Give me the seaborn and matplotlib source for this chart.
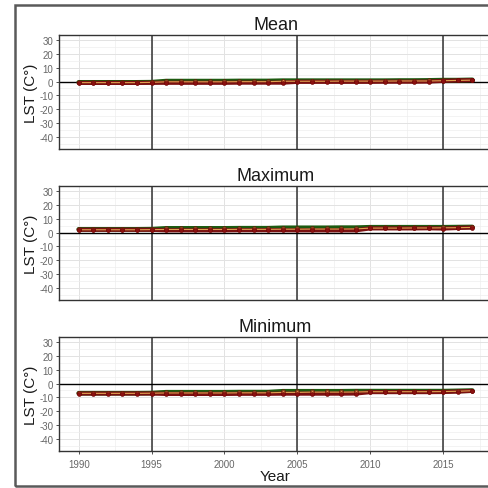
import matplotlib
matplotlib.use("Agg")
import matplotlib.pyplot as plt
import seaborn as sns
import pandas as pd
from matplotlib.patches import Rectangle
from matplotlib.ticker import MultipleLocator

# 数据
years = list(range(1990, 2018))

mean_green = [-0.6, -0.6, -0.6, -0.6, -0.6, -0.5, 0.3, 0.3, 0.3, 0.3, 0.3, 0.4, 0.4, 0.4,
              0.6, 0.6, 0.6, 0.6, 0.6, 0.6, 0.6, 0.6, 0.7, 0.7, 0.8, 1.0, 1.0, 1.2]
mean_orange = [-0.8, -0.8, -0.8, -0.8, -0.8, -0.6, -0.2, -0.2, -0.2, -0.2, -0.2, -0.1, -0.1, -0.1,
               0.2, 0.2, 0.2, 0.2, 0.3, 0.3, 0.3, 0.3, 0.4, 0.4, 0.4, 0.6, 0.8, 1.0]
mean_red = [-1.0, -1.0, -1.0, -1.0, -1.0, -0.9, -0.9, -0.9, -0.9, -0.9, -0.9, -0.8, -0.8, -0.8,
            -0.8, -0.2, -0.2, -0.2, -0.2, -0.2, -0.2, -0.1, -0.1, -0.1, 0.0, 0.5, 0.8, 1.0]

max_green = [2.3, 2.3, 2.3, 2.3, 2.3, 2.4, 3.0, 3.0, 3.0, 3.0, 3.0, 3.1, 3.1, 3.1,
             3.4, 3.4, 3.4, 3.4, 3.5, 3.5, 3.8, 3.8, 3.8, 3.8, 3.8, 3.8, 3.9, 4.0]
max_orange = [2.0, 2.0, 2.0, 2.0, 2.0, 2.1, 2.2, 2.2, 2.2, 2.2, 2.2, 2.3, 2.3, 2.3,
              2.4, 2.4, 2.5, 2.5, 2.5, 2.6, 3.2, 3.2, 3.2, 3.3, 3.3, 3.4, 3.5, 3.7]
max_red = [2.0, 2.0, 2.0, 2.0, 2.0, 2.0, 1.6, 1.6, 1.6, 1.6, 1.6, 1.7, 1.7, 1.7,
           1.7, 1.6, 1.6, 1.6, 1.6, 1.6, 3.0, 3.0, 3.0, 3.0, 3.1, 2.9, 3.3, 3.6]

min_green = [-7.0, -7.0, -7.0, -7.0, -7.0, -6.9, -6.3, -6.3, -6.3, -6.3, -6.3, -6.2, -6.2, -6.2,
             -5.6, -5.6, -5.6, -5.6, -5.6, -5.5, -5.5, -5.5, -5.5, -5.5, -5.5, -5.5, -5.3, -5.1]
min_orange = [-7.1, -7.1, -7.1, -7.1, -7.1, -7.0, -6.8, -6.8, -6.8, -6.8, -6.8, -6.7, -6.7, -6.7,
              -6.4, -6.4, -6.2, -6.2, -6.2, -6.1, -5.9, -5.9, -5.9, -5.9, -5.9, -5.8, -5.6, -5.2]
min_red = [-7.2, -7.2, -7.2, -7.2, -7.2, -7.2, -7.5, -7.5, -7.5, -7.5, -7.5, -7.4, -7.4, -7.4,
           -7.3, -7.3, -7.3, -7.3, -7.3, -7.2, -6.2, -6.2, -6.2, -6.2, -6.2, -6.1, -5.8, -5.3]

panel_titles = ["Mean", "Maximum", "Minimum"]
panel_data = [
    (mean_green, mean_orange, mean_red),
    (max_green, max_orange, max_red),
    (min_green, min_orange, min_red),
]
ref_years = [1995, 2005, 2015]
x_ticks = [1990, 1995, 2000, 2005, 2010, 2015]
y_ticks = [30, 20, 10, 0, -10, -20, -30, -40]

sns.set_theme(style="white")
plt.rcParams['font.family'] = ['Liberation Sans', 'DejaVu Sans']
plt.rcParams['axes.unicode_minus'] = False

fig = plt.figure(figsize=(4.89, 4.89), dpi=100)

# 外框
fig.patches.append(Rectangle((0.031, 0.004), 1.2, 0.984, transform=fig.transFigure,
                             fill=False, edgecolor='#5a5a5a', linewidth=1.8))

bottoms = [0.6933, 0.3845, 0.0757]
# (线颜色, 点颜色, 线宽, 点大小)
series_style = [
    ('#1d5a10', '#8a8a3a', 3.4, 7),
    ('#e0a050', '#e8a050', 0.8, 6),
    ('#7a1010', '#8b1010', 3.0, 8),
]

for i, (title, vals) in enumerate(zip(panel_titles, panel_data)):
    ax = fig.add_axes([0.1207, bottoms[i], 0.8855, 0.2331])
    df = pd.DataFrame({
        'Year': years * 3,
        'LST': list(vals[0]) + list(vals[1]) + list(vals[2]),
        'series': ['g'] * len(years) + ['o'] * len(years) + ['r'] * len(years),
    })
    for s, (lc, pc, lw, ms) in zip(['g', 'o', 'r'], series_style):
        sub = df[df['series'] == s]
        sns.lineplot(data=sub, x='Year', y='LST', ax=ax, color=lc, linewidth=lw,
                     zorder=3 if s != 'o' else 4)
        sns.scatterplot(data=sub, x='Year', y='LST', ax=ax, color=pc, s=ms,
                        edgecolor='#6b0000', linewidth=0.4, zorder=5)

    for yr in ref_years:
        ax.axvline(yr, color='#333333', linewidth=1.1, zorder=2)
    ax.axhline(0, color='black', linewidth=1.0, zorder=2)

    ax.set_xlim(1988.65, 2018.35)
    ax.set_ylim(-48.7, 33.6)
    ax.set_xticks(x_ticks)
    ax.set_yticks(y_ticks)
    ax.xaxis.set_minor_locator(MultipleLocator(2.5))
    ax.yaxis.set_minor_locator(MultipleLocator(5))
    ax.grid(True, which='major', color='#e2e2e2', linewidth=0.7, zorder=0)
    ax.grid(True, which='minor', color='#eeeeee', linewidth=0.5, zorder=0)
    ax.set_axisbelow(True)

    ax.tick_params(axis='y', which='major', left=True, length=2.5, width=0.6, color='#333333',
                   labelsize=7, labelcolor='#666666', pad=1.5)
    ax.tick_params(axis='x', which='major', bottom=(i == 2), length=2.5, width=0.6,
                   color='#333333', labelsize=7, labelcolor='#666666', pad=3,
                   labelbottom=(i == 2))
    ax.tick_params(which='minor', length=0)

    for sp in ax.spines.values():
        sp.set_color('#333333')
        sp.set_linewidth(1.0)

    ax.set_title(title, fontsize=13, pad=4, color='#1a1a1a')
    ax.set_ylabel('LST (C°)', fontsize=11, color='#1a1a1a', labelpad=1)
    ax.set_xlabel('Year' if i == 2 else '', fontsize=11, color='#1a1a1a', labelpad=0)

fig.savefig('out.png', dpi=100)
